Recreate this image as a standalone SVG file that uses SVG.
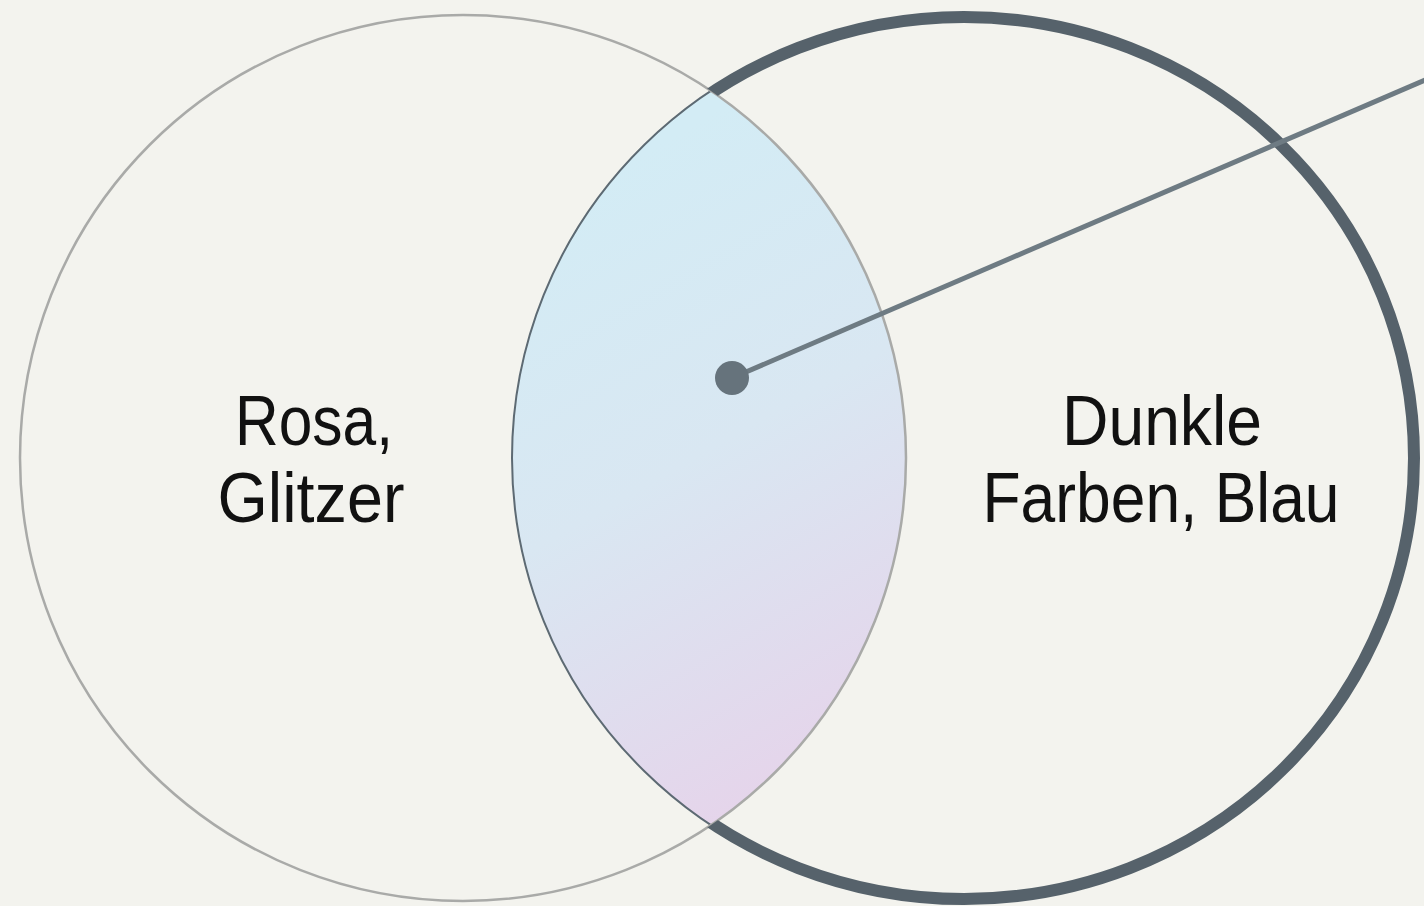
<svg xmlns="http://www.w3.org/2000/svg" width="1424" height="906" viewBox="0 0 1424 906">
  <style>
    .lbl { font-family: "Liberation Sans", Arial, sans-serif; font-size: 71px; fill: #111; text-anchor: middle; }
  </style>
  <defs>
    <linearGradient id="lensGrad" gradientUnits="userSpaceOnUse" x1="560" y1="200" x2="880" y2="760">
      <stop offset="0" stop-color="#d3ecf5"/>
      <stop offset="0.45" stop-color="#d9e7f2"/>
      <stop offset="1" stop-color="#e6d3ea"/>
    </linearGradient>
    <clipPath id="inLeft">
      <circle cx="463" cy="458" r="443"/>
    </clipPath>
    <mask id="outLeft">
      <rect x="0" y="0" width="1424" height="906" fill="#fff"/>
      <circle cx="463" cy="458" r="443" fill="#000"/>
    </mask>
  </defs>
  <rect x="0" y="0" width="1424" height="906" fill="#f3f3ee"/>

  <g id="lens">
    <ellipse cx="964" cy="458" rx="452" ry="443" fill="url(#lensGrad)" clip-path="url(#inLeft)"/>
    <ellipse cx="964" cy="458" rx="452" ry="443" fill="none" stroke="#5d6a73" stroke-width="2" clip-path="url(#inLeft)"/>
  </g>

  <g id="left-set">
    <circle cx="463" cy="458" r="443" fill="none" stroke="#a9aaa8" stroke-width="2.5"/>
    <text class="lbl" x="314" y="445" textLength="158" lengthAdjust="spacingAndGlyphs">Rosa,</text>
    <text class="lbl" x="311" y="522" textLength="187" lengthAdjust="spacingAndGlyphs">Glitzer</text>
  </g>

  <g id="right-set">
    <ellipse cx="964" cy="458" rx="450" ry="441" fill="none" stroke="#56626b" stroke-width="12" mask="url(#outLeft)"/>
    <text class="lbl" x="1162" y="445" textLength="200" lengthAdjust="spacingAndGlyphs">Dunkle</text>
    <text class="lbl" x="1161" y="522" textLength="357" lengthAdjust="spacingAndGlyphs">Farben, Blau</text>
  </g>

  <g id="connectors">
    <line x1="732" y1="378" x2="1430" y2="78" stroke="#6e7b83" stroke-width="5"/>
    <circle cx="732" cy="378" r="17" fill="#66737c"/>
  </g>
</svg>
